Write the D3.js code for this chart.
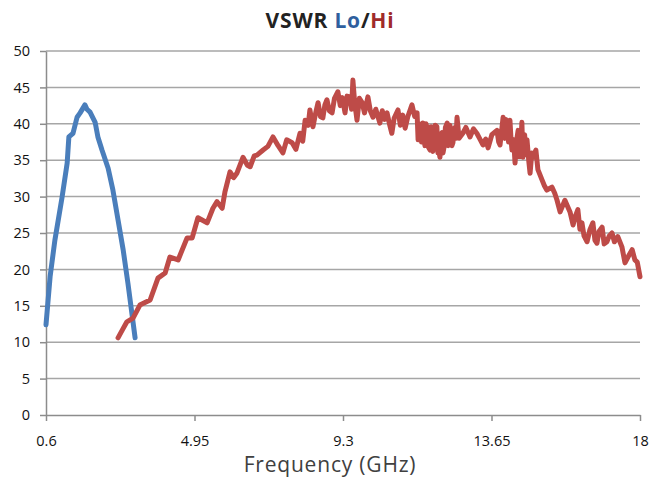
<!DOCTYPE html>
<html>
<head>
<meta charset="utf-8">
<script src="https://cdn.jsdelivr.net/npm/d3@7"></script>
<style>
  body { margin: 0; background: #fff; }
  #chart text { font-family: "Open Sans", "Noto Sans", sans-serif; }
  .grid line { stroke: #a6a6a6; stroke-width: 1.5; }
  .axis path, .axis line { stroke: #8c8c8c; stroke-width: 1.5; }
  .axis text { fill: #111; font-size: 14.5px; }
</style>
</head>
<body>
<div id="chart"></div>
<script>
// tick labels
var xTicks = [0.6, 4.95, 9.3, 13.65, 18];
var yTicks = [0, 5, 10, 15, 20, 25, 30, 35, 40, 45, 50];

// Lo band
var loFreq = [0.60, 0.72, 0.86, 1.07, 1.22, 1.27, 1.39, 1.51, 1.60, 1.74, 1.80, 1.89, 2.04, 2.12, 2.24, 2.42, 2.56, 2.71, 2.86, 3.00, 3.21];
var loVswr = [12.4, 19.0, 24.0, 29.9, 34.6, 38.2, 38.7, 40.9, 41.5, 42.6, 42.0, 41.6, 40.2, 38.2, 36.4, 33.9, 30.9, 26.8, 22.7, 18.1, 10.6];

// Hi band
var hiFreq = [
    2.71, 2.85, 2.97, 3.15, 3.35, 3.65, 3.88, 4.09, 4.23, 4.47,
    4.73, 4.88, 5.05, 5.32, 5.49, 5.61, 5.76, 5.84, 5.99, 6.10,
    6.19, 6.37, 6.50, 6.58, 6.70, 6.78, 6.96, 7.10, 7.25, 7.40,
    7.54, 7.65, 7.81, 7.92, 8.04, 8.12, 8.19, 8.28, 8.33, 8.42,
    8.50, 8.57, 8.64, 8.71, 8.77, 8.83, 8.90, 8.98, 9.05, 9.15,
    9.22, 9.28, 9.36, 9.42, 9.50, 9.55, 9.59, 9.64, 9.71, 9.78,
    9.86, 9.93, 10.03, 10.10, 10.18, 10.26, 10.38, 10.45, 10.52, 10.59,
    10.66, 10.73, 10.80, 10.91, 10.98, 11.05, 11.12, 11.20, 11.32, 11.40,
    11.47, 11.50, 11.53, 11.56, 11.60, 11.64, 11.67, 11.70, 11.73, 11.76,
    11.80, 11.85, 11.88, 11.90, 11.93, 11.96, 12.00, 12.05, 12.08, 12.10,
    12.14, 12.17, 12.20, 12.23, 12.26, 12.30, 12.35, 12.38, 12.40, 12.43,
    12.46, 12.49, 12.52, 12.55, 12.58, 12.61, 12.64, 12.70, 12.81, 12.90,
    13.02, 13.12, 13.22, 13.30, 13.40, 13.48, 13.55, 13.66, 13.81, 13.86,
    13.90, 13.99, 14.02, 14.04, 14.07, 14.10, 14.15, 14.19, 14.22, 14.25,
    14.30, 14.34, 14.38, 14.43, 14.47, 14.50, 14.54, 14.57, 14.62, 14.66,
    14.69, 14.74, 14.78, 14.83, 14.87, 14.95, 15.01, 15.13, 15.20, 15.27,
    15.42, 15.50, 15.57, 15.66, 15.80, 15.95, 16.04, 16.10, 16.18, 16.24,
    16.30, 16.36, 16.45, 16.53, 16.62, 16.68, 16.74, 16.80, 16.89, 16.95,
    17.03, 17.10, 17.18, 17.25, 17.35, 17.47, 17.56, 17.66, 17.77, 17.85,
    17.92, 18.00];
var hiVswr = [
    10.6, 11.8, 12.8, 13.3, 15.1, 15.8, 18.8, 19.5, 21.7, 21.3,
    24.3, 24.3, 27.1, 26.4, 28.4, 29.3, 28.4, 30.6, 33.4, 32.6,
    33.2, 35.4, 34.3, 34.1, 35.6, 35.7, 36.4, 36.9, 38.2, 37.0,
    36.0, 37.8, 37.4, 36.5, 38.7, 37.6, 40.5, 39.8, 41.9, 39.6,
    41.5, 42.9, 41.0, 40.8, 42.6, 43.3, 41.8, 41.5, 43.5, 44.4,
    42.5, 43.6, 41.5, 43.8, 43.7, 42.0, 46.0, 43.0, 40.5, 43.5,
    42.9, 41.5, 43.7, 41.8, 40.9, 42.0, 40.1, 41.8, 40.6, 41.5,
    40.0, 38.7, 40.8, 41.9, 39.8, 41.2, 39.4, 41.0, 42.6, 41.0,
    41.5, 37.8, 40.0, 39.8, 37.5, 40.1, 38.2, 37.0, 40.0, 39.5,
    36.8, 36.4, 39.6, 39.0, 36.2, 37.2, 39.8, 39.6, 36.0, 36.5,
    35.4, 38.5, 38.8, 36.0, 36.8, 39.5, 40.1, 37.0, 37.5, 39.8,
    39.2, 37.0, 37.4, 39.0, 39.5, 38.0, 40.9, 38.0, 38.7, 39.5,
    38.2, 39.3, 38.7, 38.0, 37.1, 37.9, 36.7, 38.5, 39.1, 37.5,
    37.1, 40.9, 38.5, 38.0, 40.6, 40.1, 37.5, 40.5, 38.0, 36.4,
    37.8, 34.6, 37.5, 39.1, 35.5, 36.0, 40.2, 35.4, 38.5, 35.8,
    37.8, 35.0, 33.2, 36.0, 35.4, 36.4, 33.7, 32.3, 31.5, 30.9,
    31.3, 30.5, 29.5, 27.9, 29.5, 27.9, 26.1, 27.2, 28.2, 25.5,
    26.4, 24.6, 23.8, 25.4, 26.4, 24.0, 23.6, 25.2, 25.8, 23.5,
    23.8, 24.6, 25.0, 23.8, 24.5, 23.1, 20.9, 21.8, 22.7, 21.3,
    21.0, 19.0];

var W = 650, H = 477;
var margin = {top: 51, right: 10, bottom: 62, left: 46};
var width = W - margin.left - margin.right;
var height = H - margin.top - margin.bottom;

var svg = d3.select("#chart").append("svg")
    .attr("width", W)
    .attr("height", H);

var g = svg.append("g")
    .attr("transform", "translate(" + margin.left + "," + margin.top + ")");

var x = d3.scaleLinear().domain([0.6, 18]).range([0, width]);
var y = d3.scaleLinear().domain([0, 50]).range([height, 0]);

// gridlines
g.append("g")
    .attr("class", "grid")
    .selectAll("line")
    .data(yTicks.filter(function(d) { return d > 0; }))
    .enter().append("line")
    .attr("x1", 0)
    .attr("x2", width)
    .attr("y1", function(d) { return y(d); })
    .attr("y2", function(d) { return y(d); });

// axes
var yAxis = d3.axisLeft(y).tickValues(yTicks).tickSize(6).tickPadding(10).tickSizeOuter(0);
g.append("g").attr("class", "y axis").call(yAxis);

var xAxis = d3.axisBottom(x).tickValues(xTicks).tickSize(6).tickPadding(15).tickSizeOuter(0)
    .tickFormat(function(d) { return String(d); });
g.append("g")
    .attr("class", "x axis")
    .attr("transform", "translate(0," + height + ")")
    .call(xAxis);

// lines
var line = d3.line()
    .x(function(d) { return x(d[0]); })
    .y(function(d) { return y(d[1]); });

var loData = loFreq.map(function(f, i) { return [f, loVswr[i]]; });
var hiData = hiFreq.map(function(f, i) { return [f, hiVswr[i]]; });

g.append("path")
    .datum(loData)
    .attr("fill", "none")
    .attr("stroke", "#4a7ebb")
    .attr("stroke-width", 5)
    .attr("stroke-linejoin", "round")
    .attr("stroke-linecap", "round")
    .attr("d", line);

g.append("path")
    .datum(hiData)
    .attr("fill", "none")
    .attr("stroke", "#be4b48")
    .attr("stroke-width", 5)
    .attr("stroke-linejoin", "round")
    .attr("stroke-linecap", "round")
    .attr("d", line);

// title
var title = svg.append("text")
    .attr("x", 330)
    .attr("y", 28)
    .attr("text-anchor", "middle")
    .style("font-size", "21px")
    .style("font-weight", "bold")
    .style("letter-spacing", "0.8px");
title.append("tspan").attr("fill", "#222").text("VSWR ");
title.append("tspan").attr("fill", "#2f5f9e").text("Lo");
title.append("tspan").attr("fill", "#222").text("/");
title.append("tspan").attr("fill", "#a02b2b").text("Hi");

// x label
svg.append("text")
    .attr("x", 330)
    .attr("y", 472)
    .attr("text-anchor", "middle")
    .style("font-size", "21px")
    .style("letter-spacing", "0.8px")
    .attr("fill", "#404040")
    .text("Frequency (GHz)");
</script>
</body>
</html>
